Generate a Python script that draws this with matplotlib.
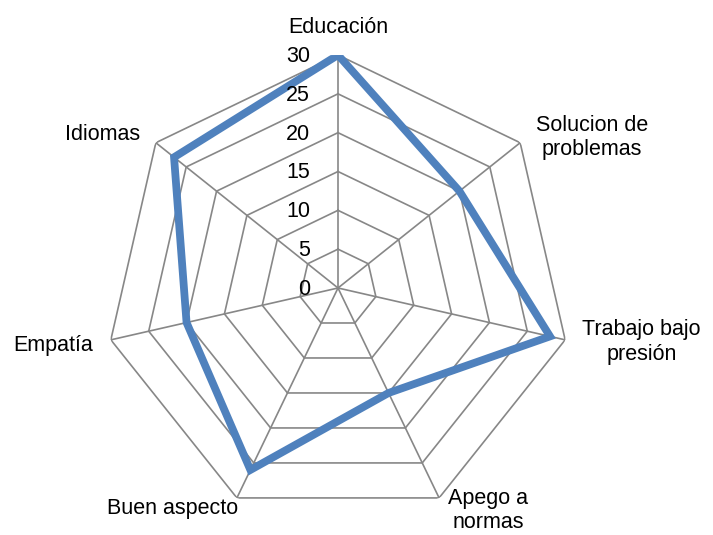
import numpy as np
import matplotlib
matplotlib.use("Agg")
import matplotlib.pyplot as plt

plt.rcParams['font.family'] = ['Liberation Sans', 'DejaVu Sans']

categories = ["Educación", "Solucion de\nproblemas", "Trabajo bajo\npresión",
              "Apego a\nnormas", "Buen aspecto", "Empatía", "Idiomas"]
values = [30, 20, 28, 15, 26, 20, 27]
ticks = [0, 5, 10, 15, 20, 25, 30]

# label centres as (angle in degrees clockwise from top, radius in data units)
label_pos = [(0, 33.5), (59.3, 38.0), (100.1, 39.7), (146.0, 34.5),
             (217.0, 35.5), (258.6, 37.4), (303.0, 36.2)]

n = len(categories)
theta = np.linspace(0, 2 * np.pi, n, endpoint=False)

fig = plt.figure(figsize=(7.13, 5.35), dpi=100)
ax = fig.add_axes([105 / 713, 14 / 535, 466 / 713, 466 / 535], projection='polar')
ax.set_theta_zero_location('N')
ax.set_theta_direction(-1)
ax.set_ylim(0, 30)
ax.grid(False)
ax.set_xticks([])
ax.set_yticks([])
ax.spines['polar'].set_visible(False)
ax.patch.set_visible(False)

grid_col = '#878787'
closed = np.append(theta, theta[0])
for t in ticks[1:]:
    ax.plot(closed, [t] * (n + 1), color=grid_col, lw=1.2, zorder=1)
for a in theta:
    ax.plot([a, a], [0, 30], color=grid_col, lw=1.2, zorder=1)

ax.plot(closed, values + values[:1], color='#4F81BD', lw=5.6,
        solid_joinstyle='miter', zorder=3)

for t in ticks:
    ax.annotate(str(t), xy=(0, t), xytext=(-20, -1), textcoords='offset points',
                ha='right', va='center', fontsize=15.5, zorder=4)

for lab, (ang, r) in zip(categories, label_pos):
    ax.text(np.deg2rad(ang), r, lab, ha='center', va='center', fontsize=15.5,
            multialignment='center', linespacing=1.2)

fig.savefig("out.png", dpi=100)
